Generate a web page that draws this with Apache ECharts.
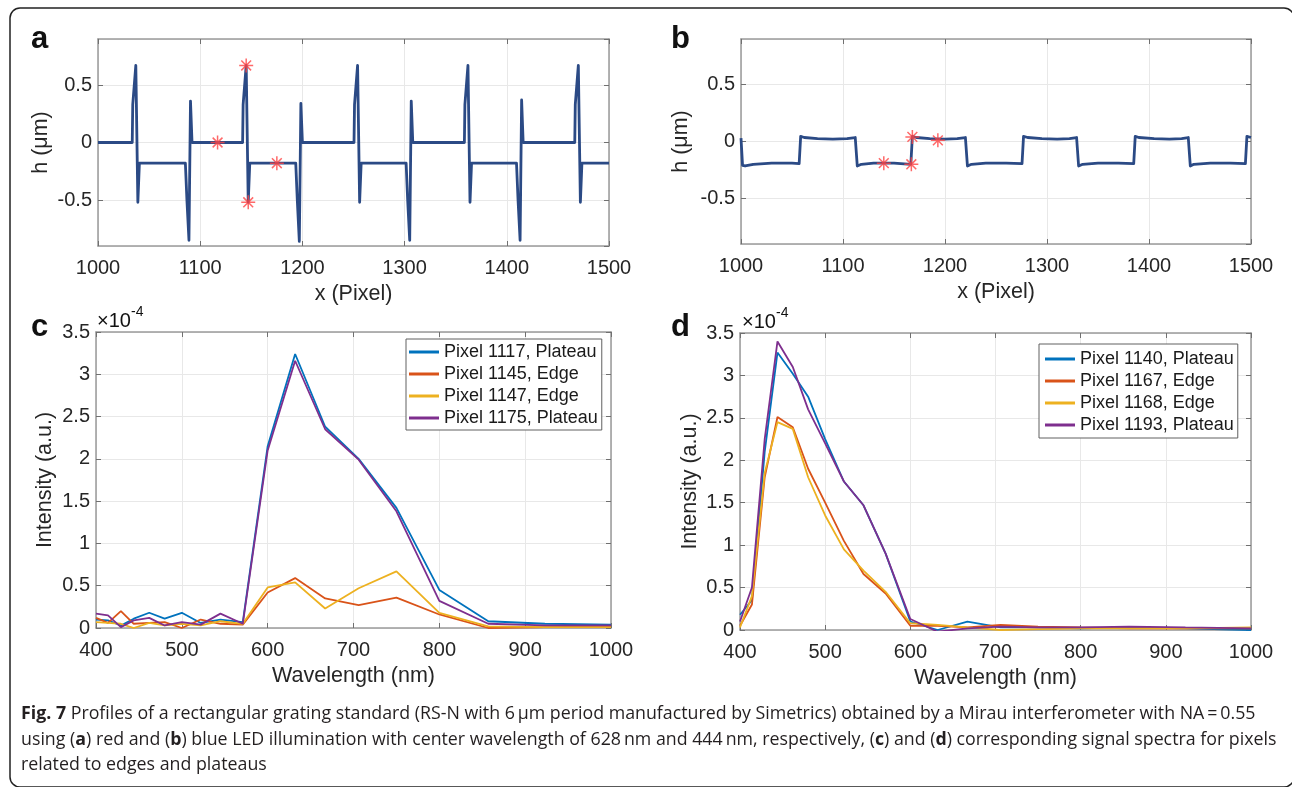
<!DOCTYPE html>
<html>
<head>
<meta charset="utf-8">
<script src="https://cdn.jsdelivr.net/npm/echarts@6/dist/echarts.min.js"></script>
<style>
  html, body { margin: 0; padding: 0; background: #fff; }
  #chart { width: 1292px; height: 787px; }
</style>
</head>
<body>
<div id="chart"></div>
<script>
// ---- data ----
// panel a: height profile, red LED  [x pixel, h um]
const profileA = [
  [1000, 0], [1033.5, 0], [1034, 0.33], [1037, 0.67], [1039, -0.52], [1040.5, -0.18],
  [1085.5, -0.18], [1087, -0.5], [1089, -0.85], [1090.5, 0.36], [1092, 0],
  [1141.5, 0], [1142, 0.33], [1145, 0.67], [1147, -0.52], [1148.5, -0.18],
  [1193.5, -0.18], [1195, -0.5], [1197, -0.86], [1198.5, 0.34], [1200, 0],
  [1250.5, 0], [1251, 0.33], [1254, 0.67], [1256, -0.52], [1257.5, -0.18],
  [1301.5, -0.18], [1303, -0.5], [1305, -0.85], [1306.5, 0.36], [1308, 0],
  [1358.5, 0], [1359, 0.33], [1362, 0.67], [1364, -0.52], [1365.5, -0.18],
  [1409.5, -0.18], [1411, -0.5], [1413, -0.85], [1414.5, 0.37], [1416, 0],
  [1466.5, 0], [1467, 0.33], [1470, 0.67], [1472, -0.52], [1473.5, -0.18],
  [1500, -0.18]
];
const starsA = [[1117, 0], [1145, 0.67], [1147, -0.52], [1175, -0.18]];

// panel b: height profile, blue LED
const profileB = [
  [1000, 0.03], [1001.5, -0.21], [1004, -0.215], [1012, -0.2], [1030, -0.19], [1050, -0.19], [1057, -0.195],
  [1058.5, 0.045], [1062, 0.035], [1075, 0.025], [1090, 0.02], [1104, 0.025], [1112, 0.035],
  [1114, -0.215], [1118, -0.2], [1130, -0.19], [1150, -0.19], [1166.5, -0.2],
  [1168, 0.045], [1172, 0.035], [1185, 0.025], [1200, 0.02], [1212, 0.025], [1220, 0.035],
  [1222, -0.215], [1226, -0.2], [1240, -0.19], [1260, -0.19], [1275.5, -0.195],
  [1277, 0.045], [1281, 0.035], [1295, 0.025], [1310, 0.02], [1322, 0.025], [1329, 0.035],
  [1331, -0.215], [1335, -0.2], [1350, -0.19], [1370, -0.19], [1385, -0.195],
  [1386.5, 0.045], [1390, 0.035], [1405, 0.025], [1420, 0.02], [1432, 0.025], [1438.5, 0.035],
  [1440.5, -0.215], [1444, -0.2], [1460, -0.19], [1480, -0.19], [1494.5, -0.195],
  [1496, 0.045], [1500, 0.035]
];
const starsB = [[1140, -0.19], [1167, -0.2], [1168, 0.04], [1193, 0.01]];

// panels c, d: spectra (intensity in units of 1e-4)
const wavelength = [400, 414, 429, 444, 462, 480, 500, 522, 545, 571, 600, 632, 667, 706, 750, 800, 857, 923, 1000];

const namesC = ['Pixel 1117, Plateau', 'Pixel 1145, Edge', 'Pixel 1147, Edge', 'Pixel 1175, Plateau'];
const px1117 = [0.10, 0.09, 0.03, 0.11, 0.18, 0.11, 0.18, 0.06, 0.10, 0.07, 2.15, 3.24, 2.38, 2.00, 1.42, 0.45, 0.08, 0.05, 0.04];
const px1145 = [0.12, 0.06, 0.20, 0.05, 0.06, 0.07, 0.00, 0.10, 0.05, 0.04, 0.42, 0.59, 0.35, 0.27, 0.36, 0.16, 0.00, 0.01, 0.02];
const px1147 = [0.07, 0.06, 0.05, 0.00, 0.06, 0.03, 0.05, 0.03, 0.08, 0.05, 0.48, 0.54, 0.23, 0.47, 0.67, 0.18, 0.02, 0.01, 0.01];
const px1175 = [0.17, 0.15, 0.01, 0.09, 0.12, 0.03, 0.07, 0.04, 0.17, 0.05, 2.10, 3.16, 2.35, 1.99, 1.38, 0.32, 0.05, 0.03, 0.03];

const namesD = ['Pixel 1140, Plateau', 'Pixel 1167, Edge', 'Pixel 1168, Edge', 'Pixel 1193, Plateau'];
const px1140 = [0.18, 0.35, 2.10, 3.27, 3.02, 2.75, 2.25, 1.75, 1.47, 0.90, 0.10, 0.00, 0.10, 0.03, 0.03, 0.02, 0.03, 0.02, 0.00];
const px1167 = [0.05, 0.30, 1.80, 2.51, 2.39, 1.90, 1.50, 1.05, 0.66, 0.43, 0.05, 0.05, 0.03, 0.06, 0.04, 0.03, 0.02, 0.02, 0.02];
const px1168 = [0.03, 0.40, 1.85, 2.45, 2.37, 1.80, 1.35, 0.95, 0.70, 0.45, 0.08, 0.06, 0.03, 0.00, 0.01, 0.02, 0.02, 0.02, 0.03];
const px1193 = [0.10, 0.50, 2.25, 3.40, 3.10, 2.60, 2.20, 1.75, 1.47, 0.90, 0.13, -0.02, 0.02, 0.04, 0.03, 0.03, 0.04, 0.03, 0.02];

// ---- style ----
const FONT = '"Liberation Sans", Arial, sans-serif';
const INK = '#262626';
const FRAME = '#9a9a9a';
const GRIDLINE = '#e8e8e8';
const PROFILE = '#2b4a85';
const STAR = '#ff4444';
const SPEC = ['#0072BD', '#D95319', '#EDB120', '#7E2F8E'];
const STAR_PATH = 'path://M0,-10L0,10M-10,0L10,0M-7,-7L7,7M-7,7L7,-7';

const chart = echarts.init(document.getElementById('chart'));

const grids = [
  { left: 98, top: 39, width: 511, height: 207 },
  { left: 741, top: 39, width: 510, height: 205 },
  { left: 96, top: 332, width: 515, height: 296 },
  { left: 740, top: 333, width: 511, height: 297 }
].map(g => Object.assign({ outerBoundsMode: 'none', containLabel: false }, g));

const xAxes = [];
const yAxes = [];

function addAxes(i, xr, yr, xName, yName, yGap) {
  const frame = { onZero: false, lineStyle: { color: FRAME, width: 1.5 } };
  const tick = { inside: true, length: 5, lineStyle: { color: '#707070' } };
  const xBase = { type: 'value', gridIndex: i, min: xr[0], max: xr[1], interval: 100 };
  xAxes.push(Object.assign({}, xBase, {
    position: 'bottom',
    axisLine: frame, axisTick: tick,
    axisLabel: { color: INK, fontFamily: FONT, fontSize: 20, margin: 12, formatter: v => String(v) },
    splitLine: { show: true, lineStyle: { color: GRIDLINE } },
    name: xName, nameLocation: 'middle', nameGap: 37,
    nameTextStyle: { color: INK, fontFamily: FONT, fontSize: 21.5 }
  }));
  xAxes.push(Object.assign({}, xBase, {
    position: 'top', axisLine: frame, axisTick: tick,
    axisLabel: { show: false }, splitLine: { show: false }
  }));
  const yBase = Object.assign({ type: 'value', gridIndex: i }, yr);
  yAxes.push(Object.assign({}, yBase, {
    position: 'left',
    axisLine: frame, axisTick: tick,
    axisLabel: { color: INK, fontFamily: FONT, fontSize: 20, margin: 6, showMinLabel: yr.min === 0, showMaxLabel: yr.min === 0 },
    splitLine: { show: true, lineStyle: { color: GRIDLINE } },
    name: yName, nameLocation: 'middle', nameGap: yGap,
    nameTextStyle: { color: INK, fontFamily: FONT, fontSize: 21.5 }
  }));
  yAxes.push(Object.assign({}, yBase, {
    position: 'right', axisLine: frame, axisTick: tick,
    axisLabel: { show: false }, splitLine: { show: false }
  }));
}

const hRange = { min: -0.9, max: 0.9, minInterval: 0.5, maxInterval: 0.5 };
const iRange = { min: 0, max: 3.5, interval: 0.5 };
addAxes(0, [1000, 1500], hRange, 'x (Pixel)', 'h (μm)', 46);
addAxes(1, [1000, 1500], hRange, 'x (Pixel)', 'h (μm)', 49);
addAxes(2, [400, 1000], iRange, 'Wavelength (nm)', 'Intensity (a.u.)', 40);
addAxes(3, [400, 1000], iRange, 'Wavelength (nm)', 'Intensity (a.u.)', 39);

function profileSeries(i, data) {
  return {
    type: 'line', xAxisIndex: 2 * i, yAxisIndex: 2 * i, data: data,
    showSymbol: false, silent: true, animation: false,
    lineStyle: { color: PROFILE, width: 2.8, join: 'round' }
  };
}
function starSeries(i, data) {
  return {
    type: 'scatter', xAxisIndex: 2 * i, yAxisIndex: 2 * i, data: data, z: 5,
    symbol: STAR_PATH, symbolSize: 14, silent: true, animation: false,
    itemStyle: { color: 'rgba(0,0,0,0)', borderColor: STAR, borderWidth: 1.5 }
  };
}
function specSeries(i, name, values, k) {
  return {
    type: 'line', name: name, xAxisIndex: 2 * i, yAxisIndex: 2 * i,
    data: wavelength.map((w, j) => [w, values[j]]),
    showSymbol: false, silent: true, animation: false,
    color: SPEC[k], lineStyle: { color: SPEC[k], width: 1.8 }
  };
}

const series = [
  profileSeries(0, profileA), starSeries(0, starsA),
  profileSeries(1, profileB), starSeries(1, starsB),
  specSeries(2, namesC[0], px1117, 0), specSeries(2, namesC[1], px1145, 1),
  specSeries(2, namesC[2], px1147, 2), specSeries(2, namesC[3], px1175, 3),
  specSeries(3, namesD[0], px1140, 0), specSeries(3, namesD[1], px1167, 1),
  specSeries(3, namesD[2], px1168, 2), specSeries(3, namesD[3], px1193, 3)
];

function legendAt(left, top, names, pad) {
  return {
    data: names, orient: 'vertical', left: left, top: top,
    padding: pad, itemWidth: 30, itemHeight: 3, itemGap: 4,
    icon: 'rect', selectedMode: false,
    backgroundColor: '#fff', borderColor: '#606060', borderWidth: 1, borderRadius: 0,
    textStyle: { color: '#1a1a1a', fontFamily: FONT, fontSize: 18, lineHeight: 18 }
  };
}

function label(text, x, y, size, weight) {
  return {
    type: 'text', x: x, y: y, silent: true,
    style: { text: text, fill: '#111', fontFamily: FONT, fontSize: size, fontWeight: weight || 'normal', verticalAlign: 'middle' }
  };
}

const CAP = '"Open Sans", "Noto Sans", sans-serif';
function captionLine(text, y) {
  return {
    type: 'text', x: 21, y: y, silent: true,
    style: {
      text: text, fill: '#231f20', fontFamily: CAP, fontSize: 17.8, verticalAlign: 'middle',
      rich: { b: { fontFamily: CAP, fontSize: 17.8, fontWeight: 'bold', fill: '#231f20' } }
    }
  };
}

const graphic = [
  { type: 'rect', silent: true, shape: { x: 10, y: 8, width: 1284, height: 779, r: 10 },
    style: { fill: 'none', stroke: '#222', lineWidth: 1.5 } },
  label('a', 31, 39, 31, 'bold'),
  label('b', 671, 39, 31, 'bold'),
  label('c', 31, 327, 31, 'bold'),
  label('d', 671, 327, 31, 'bold'),
  label('×10', 97, 321, 20),
  label('-4', 131, 312, 14),
  label('×10', 742, 322, 20),
  label('-4', 776, 313, 14),
  captionLine('{b|Fig. 7} Profiles of a rectangular grating standard (RS-N with 6\u2009µm period manufactured by Simetrics) obtained by a Mirau interferometer with NA\u2009=\u20090.55', 714),
  captionLine('using ({b|a}) red and ({b|b}) blue LED illumination with center wavelength of 628\u2009nm and 444\u2009nm, respectively, ({b|c}) and ({b|d}) corresponding signal spectra for pixels', 740),
  captionLine('related to edges and plateaus', 765)
];

chart.setOption({
  animation: false,
  backgroundColor: '#fff',
  grid: grids,
  xAxis: xAxes,
  yAxis: yAxes,
  legend: [legendAt(406, 339, namesC, [4, 4, 3, 3]), legendAt(1039, 344, namesD, [6, 4, 4, 6])],
  graphic: graphic,
  series: series
});
</script>
</body>
</html>
